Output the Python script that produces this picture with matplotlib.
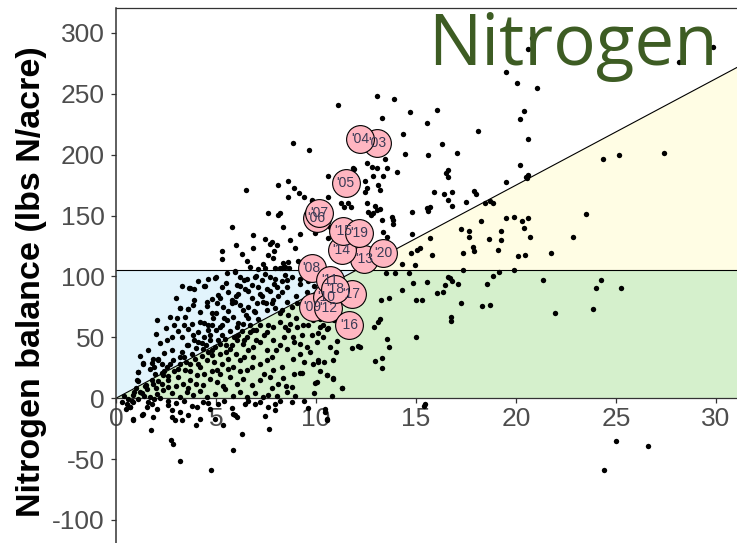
import matplotlib.pyplot as plt
import numpy as np

plt.rcParams['font.family'] = ['Liberation Sans', 'DejaVu Sans']
plt.rcParams['axes.unicode_minus'] = False

# field points (x, nitrogen balance)
pts_far = [
    (20.78, 295.6), (20.58, 286.6), (29.87, 288.7), (28.17, 276.4), (19.5, 267.7), (20.03, 258.6),
    (21.07, 254.5), (16.07, 236.7), (20.42, 235.6), (20.2, 229.6), (18.12, 219.7), (20.58, 212.6),
    (16.28, 208.5), (17.07, 201.6), (20.2, 191.5), (16.5, 184.6), (16.6, 187.4), (16.6, 181.9),
    (20.5, 181.6), (20.6, 183.0), (20.55, 180.5), (19.5, 177.5), (15.9, 169.6), (16.4, 167.7),
    (16.8, 169.6), (16.6, 162.7), (16.8, 157.8), (17.9, 170.4), (18.0, 167.7), (17.5, 161.4),
    (18.45, 160.5), (18.7, 162.2), (18.87, 160.5), (15.7, 157.2),
    (15.7, 132), (15.8, 117.5), (17.25, 138.6), (17.67, 137.5), (17.67, 132.6), (18.27, 145.7),
    (18.63, 130.7), (19.25, 137.5), (19.23, 129.9), (19.5, 147.7), (19.92, 148.5), (20.28, 145.7),
    (20.58, 147.7), (20.4, 139.7), (20.7, 132.6), (17.83, 123.8), (17.92, 120.8), (17.35, 118.9),
    (19.12, 121.6), (20.08, 116.7), (20.47, 117.5), (21.73, 118.9), (22.87, 132.6), (23.5, 151.0),
    (24.33, 196.7), (25.13, 199.7), (27.38, 201.6), (17.37, 105.2), (19.17, 103.6), (19.92, 105.2),
    (16.6, 99.7), (16.7, 98.4), (16.8, 96.4), (17.1, 93.7), (16.45, 92.9), (16.07, 86.6),
    (16.37, 87.4), (17.25, 78.6), (18.87, 100.3), (18.57, 93.7), (18.32, 75.6), (18.7, 76.7),
    (16.75, 66.8), (16.75, 63.5), (21.37, 96.7), (21.97, 69.6), (24.0, 90.7), (24.23, 96.7),
    (25.25, 90.7), (23.85, 72.9),
    (25.0, -35), (26.58, -39.2), (24.4, -58.6), (15.4, -6.3),
]

pts_mid = [
    (13.03, 248.5), (13.9, 245.7), (11.08, 240.8), (14.7, 234.8), (13.28, 229.9), (15.53, 225.8),
    (14.37, 217), (14.45, 200.5), (15.58, 199.7), (13.45, 196.4), (12.53, 192.8), (12.78, 189.6),
    (13.03, 188.8), (13.53, 188.8), (14.03, 186), (11.92, 188), (10.58, 182.7), (12.87, 182.7),
    (13.37, 182.5), (12.45, 178), (13.12, 175.1), (12.53, 172.3), (12.45, 169.6), (13.2, 171),
    (10.62, 165.5), (11.25, 160.5), (11.42, 157.2), (11.75, 156.7), (12.53, 160), (12.95, 157.8),
    (13.03, 154.5), (13.2, 155), (12.62, 153.1), (12.75, 150.4), (12.87, 151.8), (13.28, 146.3),
    (13.78, 148.5), (13.87, 146.3), (13.87, 143), (14.78, 153.1), (15.53, 155.9), (15.62, 154),
    (10.7, 140.8), (13.37, 136.2), (13.53, 132.6), (14.78, 134.5), (15.2, 123), (15.03, 121.6),
    (14.75, 118.9), (14.28, 110.1), (14.95, 109.3), (13.48, 103), (13.95, 102.5), (14.67, 103),
    (14.83, 94.8), (15.53, 95.1), (14.28, 88.8), (13.25, 80.5), (13.65, 82.4), (14.98, 80.5),
    (15.28, 80.5), (13.2, 64.7), (13.12, 62.7), (12.92, 58.6), (13.53, 49.0), (13.65, 42.2),
    (15.0, 49.9), (11.82, 41.6), (12.08, 42.7), (12.2, 42.2), (13.28, 33.1), (12.95, 30.7),
    (13.28, 25.2), (10.2, 64.7), (10.37, 60), (10.12, 53.2), (10.62, 57.3), (11.03, 46.8),
    (10.12, 29.8), (10.53, 18.9), (10.87, 16.2), (10.03, 13.4), (11.28, 8.0),
    (10.45, -8.5), (10.53, -16.7), (15.45, -4.4),
    (9.78, 161.9), (9.95, 135.4), (10.62, 131.3), (10.2, 143.6), (11.87, 188.8), (11.62, 160.0),
    (10.87, 138.0),
]

pts_upper = [
    (8.87, 209.3), (9.67, 203.8), (6.48, 171.0), (8.08, 175.1), (8.62, 178.6), (8.92, 172.3),
    (9.15, 168.7), (9.42, 165.0), (8.62, 165.0), (8.2, 152.3), (8.12, 150.1), (7.58, 151.8),
    (5.82, 140.8), (8.37, 140.8), (9.2, 134.8), (6.87, 134.0), (7.45, 130.4), (7.78, 128.5),
    (7.7, 126.6), (8.03, 125.8), (8.7, 129.9), (8.95, 123.0), (6.0, 125.8), (5.32, 121.1),
    (5.28, 114.0), (6.87, 123.0), (6.28, 118.4), (6.53, 112.8), (7.92, 120.8), (7.62, 117.5),
    (7.87, 115.3), (8.37, 111.2), (8.62, 112.0), (9.08, 112.8), (6.7, 107.9), (7.12, 105.8),
    (7.37, 110.1), (7.45, 106.6), (7.95, 106.6), (8.2, 106.6), (8.45, 107.4), (8.65, 106.6),
    (5.95, 104.6), (5.53, 103.0), (9.78, 162.7),
    (4.42, 91.8), (4.78, 81.1), (3.65, 90.7), (3.9, 89.3), (4.95, 98.4), (3.22, 73.7),
    (3.58, 72.9), (4.55, 75.6),
]

pts_low = [
    (5.0, 99.7), (5.95, 104), (6.2, 99.7), (6.53, 98.3), (6.95, 99.7), (7.45, 102.4), (7.7, 99.7),
    (7.95, 98.3), (8.28, 106.6), (8.45, 101.1), (8.78, 99.7), (9.28, 105.2), (9.2, 98.3),
    (8.53, 97.0), (7.28, 97.0),
    (4.45, 92.0), (3.7, 90.9), (5.28, 91.5), (5.62, 87.4), (6.03, 92.9), (6.45, 90.1), (7.12, 91.5),
    (7.53, 90.1), (8.03, 91.5), (8.28, 87.4), (7.2, 86.0), (6.12, 86.0), (5.78, 80.5), (5.2, 81.9),
    (9.2, 94.2), (8.53, 91.5), (9.53, 87.4),
    (3.2, 73.7), (3.62, 72.9), (3.87, 76.4), (4.2, 71.0), (4.53, 79.2), (5.03, 77.8), (5.37, 75.0),
    (5.95, 79.2), (6.2, 76.4), (6.37, 72.3), (6.62, 75.0), (6.95, 71.0), (7.37, 79.2), (7.53, 72.3),
    (7.78, 77.8), (7.95, 73.7), (8.28, 72.3), (8.53, 79.2), (8.78, 75.0), (9.03, 77.8), (6.78, 81.9),
    (7.87, 80.5), (7.03, 77.8),
    (2.07, 64.1), (3.03, 65.5), (3.45, 66.8), (3.78, 61.3), (4.2, 62.7), (4.62, 60.0), (4.87, 65.5),
    (5.2, 58.6), (5.53, 64.1), (5.87, 66.8), (6.03, 58.6), (6.37, 61.3), (6.62, 65.5), (6.87, 55.9),
    (7.2, 60.0), (7.53, 54.5), (7.87, 58.6), (8.2, 62.7), (8.45, 58.6), (8.7, 61.3), (9.03, 58.6),
    (9.37, 60.0), (9.87, 64.1), (10.2, 58.6), (10.53, 57.2),
    (2.53, 47.7), (2.78, 40.0), (3.28, 50.4), (3.53, 43.5), (3.87, 51.8), (4.12, 46.3), (4.37, 40.8),
    (4.7, 47.7), (4.95, 42.2), (5.2, 44.9), (5.45, 49.0), (5.7, 40.8), (6.03, 47.7), (6.37, 44.9),
    (6.53, 50.4), (6.87, 42.2), (7.2, 46.3), (7.53, 39.4), (7.87, 47.7), (8.2, 43.5), (8.53, 40.8),
    (8.87, 50.4), (9.2, 44.9), (9.53, 42.2), (10.03, 46.3), (10.37, 50.4), (10.7, 42.2),
    (1.12, 21.6), (1.33, 29.0), (1.87, 32.6), (2.12, 31.2), (2.53, 25.7), (2.87, 31.2), (3.2, 33.9),
    (3.45, 23.0), (3.7, 28.5), (3.95, 32.6), (4.2, 25.7), (4.53, 31.2), (4.78, 35.3), (5.03, 23.0),
    (5.28, 28.5), (5.62, 32.6), (5.87, 25.7), (6.2, 31.2), (6.53, 23.0), (6.87, 33.9), (7.2, 28.5),
    (7.53, 31.2), (7.87, 23.0), (8.28, 25.7), (8.87, 32.6), (9.28, 20.3), (9.87, 28.5),
    (10.12, 31.2), (10.87, 31.2), (9.2, 36.7),
    (1.07, 14.8), (1.45, 9.8), (1.87, 12.0), (2.37, 18.9), (2.62, 14.8), (3.12, 17.5), (3.37, 12.0),
    (3.7, 14.8), (4.03, 18.9), (4.37, 10.7), (4.7, 16.1), (5.03, 13.4), (5.37, 9.8), (5.7, 17.5),
    (6.03, 12.0), (6.37, 16.1), (6.78, 10.7), (7.2, 14.8), (7.7, 17.5), (8.37, 17.0), (8.78, 9.3),
    (9.2, 20.3), (9.95, 12.6), (10.53, 18.9), (10.87, 16.1), (11.28, 8.5),
    (0.62, -0.3), (0.87, 2.4), (1.2, 5.2), (1.53, 7.9), (1.7, 1.1), (2.03, 3.8), (2.37, 6.6),
    (2.78, 4.4), (3.2, 1.1), (3.53, 5.2), (3.87, 2.4), (4.2, 6.0), (4.53, 1.1), (4.95, 3.8),
    (5.45, 7.9), (5.87, 1.6), (6.2, 5.2), (6.53, 1.1), (6.95, 4.4), (7.37, 1.1), (8.03, 1.6),
    (8.53, 5.2), (8.95, 1.6),
    (0.53, -4.4), (0.7, -7.1), (0.87, -3.0), (1.28, -14.0), (1.53, -7.1), (1.78, -4.4), (2.03, -8.5),
    (2.62, -5.8), (2.78, -9.9), (3.2, -11.3), (3.62, -14.0), (4.03, -7.1), (4.37, -3.0), (4.7, -8.5),
    (5.12, -4.4), (5.95, -14.0), (6.45, -5.0), (6.95, -4.4), (7.62, -7.1), (7.95, -4.4),
    (10.45, -11.3),
    (0.83, -17.6), (1.37, -13.2), (1.87, -15.4), (2.78, -15.4), (2.95, -17.6), (3.28, -18.1),
    (4.0, -21.7), (4.2, -16.7), (4.95, -16.7), (5.37, -22.2), (5.87, -13.2), (6.03, -15.4),
    (6.28, -29.1), (7.45, -14.8), (7.95, -9.3), (10.53, -17.6),
    (1.75, -26.3), (2.73, -34.5), (2.83, -37.3), (5.83, -42.8), (3.2, -51.8), (4.73, -58.7),
    (7.65, -25.0),
    (1.08, 21.6), (1.33, 28.5), (1.08, 14.3), (0.7, -7.1), (0.87, -17.3), (1.78, 29), (2.08, 32.6),
    (2.28, 20.3), (1.95, 19.7),
]

pts_dense = [
    (2.0, 53), (2.5, 58), (2.7, 67), (3.0, 82), (3.3, 92), (3.9, 81), (4.1, 96), (4.6, 98),
    (2.2, 45), (1.6, 40), (1.2, 35), (2.9, 60), (3.6, 57), (4.4, 62), (4.8, 70), (5.1, 85),
    (5.5, 95), (1.7, 24), (2.4, 37),
    (3.3, 38), (3.5, 30), (3.8, 36), (4.0, 41), (4.3, 35), (4.5, 44), (4.8, 40), (5.1, 48),
    (5.3, 52), (5.5, 38), (5.7, 55), (5.9, 50), (6.1, 62), (6.3, 55), (6.5, 68), (6.7, 60),
    (6.9, 72), (7.1, 65), (7.3, 84), (7.5, 78), (7.7, 88), (7.9, 94), (8.1, 84), (8.3, 96),
    (5.0, 70), (5.4, 66), (5.6, 72), (5.8, 78), (6.0, 84), (6.2, 92), (6.4, 97), (6.6, 88),
    (6.8, 93), (7.0, 100), (4.6, 56), (4.8, 60), (4.4, 50), (4.1, 54), (3.9, 48), (3.6, 44),
    (3.2, 28), (2.9, 22), (2.6, 18), (2.3, 12), (2.0, 8), (1.8, 15), (1.5, 11), (1.3, 4),
    (1.0, 8), (0.8, -2), (0.4, 2), (0.3, -3), (0.5, -9), (2.2, 0.5), (2.6, -2), (3.0, -4),
    (3.4, -2), (3.8, -6), (4.6, -4), (5.4, -2), (5.8, -8), (6.6, -2), (7.2, -3), (7.6, 3),
    (8.2, -2), (8.8, -3), (9.4, -2), (9.6, -8), (6.2, 22), (6.8, 26), (7.4, 20), (7.8, 34),
    (8.0, 40), (8.4, 50), (8.6, 56), (8.9, 46), (9.3, 52), (9.6, 60), (9.8, 52), (9.4, 70),
    (9.0, 66), (8.6, 68), (8.2, 70), (7.6, 60), (7.4, 52), (7.0, 48), (6.6, 40), (6.4, 34),
    (6.0, 36), (5.6, 24), (5.2, 20), (4.8, 22), (4.4, 20), (4.0, 12), (3.6, 8), (3.0, 10),
    (2.6, 9), (9.0, 84), (9.6, 96), (9.9, 92), (10.2, 86), (10.6, 70), (10.9, 64), (11.2, 56),
    (11.0, 38), (10.4, 30), (10.2, 22), (9.7, 38), (9.4, 30), (8.9, 20), (8.5, 10), (8.1, 12),
    (7.8, 8), (9.9, 4), (10.8, 2),
    (0.9, 5), (1.1, -1), (1.4, 2), (1.6, -3), (1.9, -1), (2.1, 14), (2.4, 22), (2.7, 28),
    (3.1, 24), (3.4, 34), (3.7, 22), (4.1, 28), (4.3, 45), (4.6, 38), (4.9, 30), (5.2, 36),
    (5.5, 44), (5.8, 44), (6.1, 52), (6.4, 48), (6.7, 54), (7.0, 56), (5.3, 60), (5.0, 56),
    (4.7, 52), (3.4, 60), (3.1, 55), (2.8, 50), (2.3, 28), (1.9, 26),
]

# yearly averages
years = ["'03", "'04", "'05", "'06", "'07", "'08", "'09", "'10", "'11",
         "'12", "'13", "'14", "'15", "'16", "'17", "'18", "'19", "'20"]
yr_x = [13.05, 12.2, 11.48, 10.03, 10.17, 9.78, 9.83, 10.53, 10.7,
        10.62, 12.42, 11.28, 11.37, 11.65, 11.78, 10.95, 12.15, 13.37]
yr_y = [209.6, 212.9, 177.0, 148.0, 152.3, 106.6, 75.0, 83.3, 97.5,
        74.2, 114.2, 121.6, 137.5, 60.0, 86.0, 90.0, 135.9, 118.9]

slope = 8.75      # diagonal through the origin
n_limit = 105     # horizontal threshold
xmax, ymin, ymax = 31.5, -125, 320.5

pts = np.array(pts_far + pts_mid + pts_upper + pts_low + pts_dense)

fig = plt.figure(figsize=(7.37, 5.43), dpi=100)
ax = fig.add_axes([116 / 737, -7.4 / 543, 630 / 737, 542.4 / 543])

xc = n_limit / slope
ax.fill([0, 0, xc], [0, n_limit, n_limit], color='#e2f4fc', lw=0, zorder=0)
ax.fill([0, xc, xmax, xmax], [0, n_limit, n_limit, 0], color='#d5f0cc', lw=0, zorder=0)
ax.fill([xc, xmax, xmax], [n_limit, slope * xmax, n_limit], color='#fffde4', lw=0, zorder=0)
ax.axhline(n_limit, color='black', lw=0.8, zorder=1)
ax.plot([0, xmax], [0, slope * xmax], color='black', lw=0.8, zorder=1)

ax.scatter(pts[:, 0], pts[:, 1], s=15, c='black', linewidths=0, zorder=3)
ax.scatter(yr_x, yr_y, s=400, facecolor='#ffb6c1', edgecolor='black', linewidths=0.8, zorder=4)
for lbl, x, y in zip(years, yr_x, yr_y):
    ax.text(x, y, lbl, ha='center', va='center', fontsize=10, color='#3a3a55', zorder=5)

ax.set_xlim(0, xmax)
ax.set_ylim(ymin, ymax)
ax.set_xticks([0, 5, 10, 15, 20, 25, 30])
ax.set_yticks([-100, -50, 0, 50, 100, 150, 200, 250, 300])

ax.spines['bottom'].set_position(('data', 0))
for s in ['left', 'top', 'bottom', 'right']:
    ax.spines[s].set_color('#333333')
    ax.spines[s].set_linewidth(0.9)
ax.spines['left'].set_linewidth(1.1)
ax.tick_params(axis='both', labelsize=19, labelcolor='#4d4d4d', color='#333333',
               length=3.5, width=0.9)
ax.tick_params(axis='y', pad=4.5)
ax.tick_params(axis='x', pad=2.5)

fig.text(32 / 737, 1 - 282 / 543, 'Nitrogen balance (lbs N/acre)', rotation=90,
         fontsize=24.5, fontweight='bold', ha='center', va='center')
fig.text(428 / 737, 1 - 65 / 543, 'Nitrogen', fontsize=51, color='#3d5c23',
         family=['Open Sans', 'DejaVu Sans'], ha='left', va='baseline')

fig.savefig('out.png', dpi=100)
